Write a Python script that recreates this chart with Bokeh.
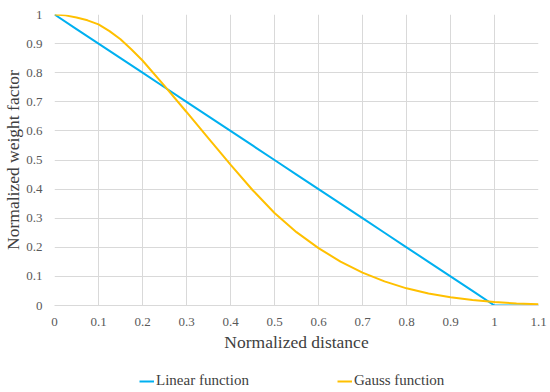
from bokeh.plotting import figure
from bokeh.models import Legend, LegendItem, FixedTicker, Range1d, CustomJSTickFormatter
from bokeh.layouts import column
from bokeh.embed import file_html
from bokeh.resources import INLINE

# Data
distance = [0.0, 0.05, 0.1, 0.15, 0.2, 0.25, 0.3, 0.35, 0.4, 0.45, 0.5, 0.55,
            0.6, 0.65, 0.7, 0.75, 0.8, 0.85, 0.9, 0.95, 1.0, 1.05, 1.1]
linear_weight = [1.0, 0.95, 0.9, 0.85, 0.8, 0.75, 0.7, 0.65, 0.6, 0.55, 0.5, 0.45,
                 0.4, 0.35, 0.3, 0.25, 0.2, 0.15, 0.1, 0.05, 0.0, 0.0, 0.0]
gauss_distance = [0.0, 0.025, 0.05, 0.075, 0.1, 0.125, 0.15, 0.175, 0.2, 0.25, 0.3, 0.35,
                  0.4, 0.45, 0.5, 0.55, 0.6, 0.65, 0.7, 0.75, 0.8, 0.85, 0.9, 0.95,
                  1.0, 1.05, 1.1]
gauss_weight = [1.0, 0.997, 0.99, 0.98, 0.966, 0.943, 0.915, 0.88, 0.842, 0.755, 0.665, 0.574,
                0.484, 0.397, 0.318, 0.252, 0.197, 0.151, 0.113, 0.083, 0.059, 0.041, 0.028,
                0.019, 0.012, 0.007, 0.004]

x_ticks = [0.0, 0.1, 0.2, 0.3, 0.4, 0.5, 0.6, 0.7, 0.8, 0.9, 1.0, 1.1]
x_tick_labels = ["0", "0.1", "0.2", "0.3", "0.4", "0.5", "0.6", "0.7", "0.8", "0.9", "1", "1.1"]
y_ticks = [0.0, 0.1, 0.2, 0.3, 0.4, 0.5, 0.6, 0.7, 0.8, 0.9, 1.0]
y_tick_labels = ["0", "0.1", "0.2", "0.3", "0.4", "0.5", "0.6", "0.7", "0.8", "0.9", "1"]

series_names = ["Linear function", "Gauss function"]
series_colors = ["#00B0F0", "#FFC000"]

FONT = "Liberation Serif"
GRID = "#d9d9d9"

LOOKUP = """
let best = 0;
for (let i = 0; i < tvals.length; i++) {
  if (Math.abs(tvals[i] - tick) < Math.abs(tvals[best] - tick)) best = i;
}
return tlabels[best];
"""

p = figure(width=550, height=354, output_backend="svg", toolbar_location=None,
           x_range=Range1d(0, 1.1), y_range=Range1d(0, 1.0),
           min_border_left=53, min_border_right=12, min_border_top=14, min_border_bottom=48)
p.outline_line_color = None
p.background_fill_color = "white"
p.border_fill_color = "white"

r1 = p.line(distance, linear_weight, line_color=series_colors[0], line_width=2)
r2 = p.line(gauss_distance, gauss_weight, line_color=series_colors[1], line_width=2)

for ax, tv, tl in ((p.xaxis[0], x_ticks, x_tick_labels), (p.yaxis[0], y_ticks, y_tick_labels)):
    ax.ticker = FixedTicker(ticks=tv)
    ax.formatter = CustomJSTickFormatter(args=dict(tvals=tv, tlabels=tl), code=LOOKUP)
    ax.major_tick_line_color = None
    ax.minor_tick_line_color = None
    ax.major_tick_out = 0
    ax.minor_tick_out = 0
    ax.major_label_text_font = FONT
    ax.major_label_text_font_size = "13px"
    ax.major_label_text_color = "#595959"
    ax.axis_label_text_font = FONT
    ax.axis_label_text_font_size = "17.5px"
    ax.axis_label_text_font_style = "normal"
    ax.axis_label_text_color = "#404040"

p.xaxis.axis_label = "Normalized distance"
p.yaxis.axis_label = "Normalized weight factor"
p.xaxis.axis_line_color = GRID
p.yaxis.axis_line_color = None
p.xaxis.major_label_standoff = 12
p.xaxis.axis_label_standoff = 3
p.yaxis.major_label_standoff = 12
p.yaxis.axis_label_standoff = 0

p.xgrid.ticker = FixedTicker(ticks=x_ticks)
p.ygrid.ticker = FixedTicker(ticks=y_ticks)
p.grid.grid_line_color = GRID
p.grid.grid_line_width = 1

# legend strip below the chart (series drawn out of view, only their legend glyphs show)
q = figure(width=550, height=38, output_backend="svg", toolbar_location=None,
           x_range=Range1d(0, 1.1), y_range=Range1d(5, 6),
           x_axis_location=None, y_axis_location=None,
           min_border_left=0, min_border_right=0, min_border_top=0, min_border_bottom=0)
q.outline_line_color = None
q.grid.visible = False
k1 = q.line(distance, linear_weight, line_color=series_colors[0], line_width=2)
k2 = q.line(gauss_distance, gauss_weight, line_color=series_colors[1], line_width=2)

legend = Legend(items=[LegendItem(label=series_names[0], renderers=[k1]),
                       LegendItem(label=series_names[1], renderers=[k2])],
                orientation="horizontal", location=(85, 3),
                padding=0, margin=0, spacing=88, label_standoff=2,
                glyph_width=15, glyph_height=16, label_height=16,
                border_line_color=None, background_fill_alpha=0,
                label_text_font=FONT, label_text_font_size="15px",
                label_text_color="#404040")
q.add_layout(legend, "center")

layout = column(p, q, spacing=0)
open("out.html", "w").write(file_html(layout, INLINE))
